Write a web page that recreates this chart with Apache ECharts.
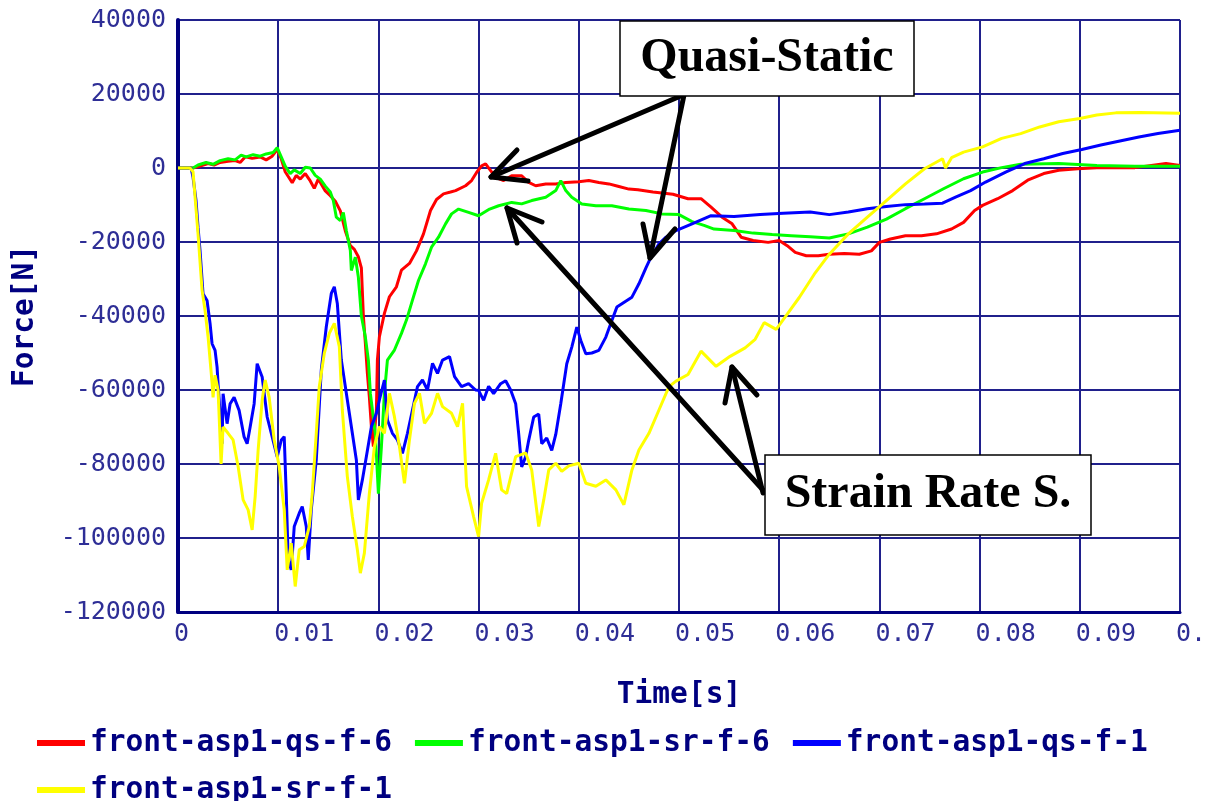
<!DOCTYPE html>
<html>
<head>
<meta charset="utf-8">
<title>Force vs Time</title>
<script src="https://cdn.jsdelivr.net/npm/echarts@6.0.0/dist/echarts.min.js"></script>
<style>
  html, body { margin: 0; padding: 0; background: #fff; }
  #chart { width: 1205px; height: 801px; }
</style>
</head>
<body>
<div id="chart"></div>
<script>
// series names (legend order)
const seriesNames = ["front-asp1-qs-f-6", "front-asp1-sr-f-6", "front-asp1-qs-f-1", "front-asp1-sr-f-1"];
const seriesColors = ["#ff0000", "#00ff00", "#0000ff", "#ffff00"];

// tick labels
const xTickLabels = ["0", "0.01", "0.02", "0.03", "0.04", "0.05", "0.06", "0.07", "0.08", "0.09", "0.1"];
const yTickLabels = ["-120000", "-100000", "-80000", "-60000", "-40000", "-20000", "0", "20000", "40000"];

// [time s, force N]
const qsF6 = [[0,0],[0.0015,0],[0.0022,500],[0.003,1200],[0.0036,800],[0.0042,1500],[0.005,1800],[0.0057,2000],[0.0062,1500],[0.0067,3000],[0.0074,2600],[0.0082,3000],[0.0088,2200],[0.0094,3200],[0.0099,5000],[0.0103,2500],[0.0107,-1000],[0.0114,-4000],[0.0118,-2000],[0.0122,-3000],[0.0127,-1500],[0.0132,-3500],[0.0136,-5500],[0.014,-3000],[0.0147,-6200],[0.0152,-7500],[0.0157,-9000],[0.0162,-11600],[0.0167,-17000],[0.0172,-21000],[0.0176,-22000],[0.018,-24000],[0.0183,-27000],[0.0185,-40000],[0.0187,-47400],[0.0189,-55500],[0.0191,-62000],[0.0193,-69900],[0.0195,-75300],[0.0198,-65400],[0.0199,-51900],[0.0201,-45600],[0.0206,-39300],[0.0211,-34800],[0.0218,-32100],[0.0223,-27600],[0.0231,-25800],[0.0238,-22400],[0.0245,-17800],[0.0252,-11500],[0.0258,-8500],[0.0265,-7000],[0.0272,-6500],[0.0277,-6100],[0.0287,-4800],[0.0293,-3400],[0.0298,-1200],[0.0303,600],[0.0307,1100],[0.0312,-700],[0.0317,-2500],[0.0325,-3400],[0.0333,-2100],[0.0343,-2100],[0.035,-3900],[0.0357,-4800],[0.0367,-4300],[0.0377,-4300],[0.0387,-3900],[0.04,-3700],[0.041,-3400],[0.042,-3900],[0.043,-4300],[0.044,-5000],[0.045,-5700],[0.0459,-5900],[0.0474,-6500],[0.0494,-7100],[0.0509,-8300],[0.0522,-8300],[0.0532,-10600],[0.0543,-13300],[0.0553,-15100],[0.0562,-18700],[0.0574,-19600],[0.0589,-20100],[0.06,-19600],[0.0608,-21000],[0.0616,-22800],[0.0627,-23700],[0.0639,-23700],[0.065,-23300],[0.0665,-23100],[0.068,-23300],[0.0692,-22400],[0.07,-20100],[0.0711,-19200],[0.0726,-18300],[0.0742,-18300],[0.0757,-17800],[0.0772,-16500],[0.0784,-14700],[0.0795,-11500],[0.0803,-10100],[0.0818,-8300],[0.0833,-6100],[0.0848,-3300],[0.0864,-1500],[0.0879,-600],[0.0898,-200],[0.0917,100],[0.0955,100],[0.0986,1200],[0.1,700]];

const srF6 = [[0,0],[0.0015,0],[0.002,800],[0.0028,1500],[0.0035,1000],[0.0042,2000],[0.005,2500],[0.0057,2200],[0.0063,3500],[0.0068,3000],[0.0075,3600],[0.0082,3200],[0.0088,3800],[0.0095,4200],[0.0099,5500],[0.0103,3000],[0.0107,500],[0.0112,-1500],[0.0116,-500],[0.0122,-1500],[0.0127,200],[0.0132,0],[0.0137,-2000],[0.0142,-3000],[0.0147,-4900],[0.0152,-6500],[0.0155,-8800],[0.0158,-13300],[0.0162,-14200],[0.0165,-12000],[0.0168,-16900],[0.0172,-22300],[0.0173,-27700],[0.0177,-24100],[0.018,-29500],[0.0183,-40000],[0.0187,-45700],[0.019,-52000],[0.0192,-61000],[0.0194,-65400],[0.0197,-72000],[0.02,-88000],[0.0203,-75300],[0.0206,-60900],[0.0209,-51900],[0.0216,-49200],[0.0223,-44700],[0.0228,-41100],[0.0234,-35700],[0.024,-30400],[0.0247,-25900],[0.0253,-21400],[0.026,-18700],[0.0267,-15100],[0.0273,-12400],[0.028,-11100],[0.029,-12000],[0.03,-12900],[0.0311,-11100],[0.032,-10200],[0.0333,-9300],[0.0343,-9700],[0.0353,-8800],[0.0367,-7900],[0.0377,-6100],[0.0382,-3400],[0.0387,-6100],[0.0393,-7900],[0.0403,-9700],[0.0417,-10200],[0.0433,-10200],[0.045,-11100],[0.0467,-11500],[0.0483,-12400],[0.05,-12600],[0.0513,-14500],[0.0525,-15500],[0.0535,-16500],[0.0555,-16900],[0.0574,-17600],[0.0593,-18000],[0.0612,-18300],[0.0631,-18600],[0.065,-18900],[0.0669,-17800],[0.0688,-16000],[0.0707,-13800],[0.0726,-11000],[0.0745,-8300],[0.0764,-5600],[0.0784,-2900],[0.0803,-1100],[0.0822,100],[0.0841,1000],[0.0879,1200],[0.0917,700],[0.0955,500],[0.1,500]];

const qsF1 = [[0,0],[0.0013,0],[0.0015,-2500],[0.0018,-8800],[0.002,-16000],[0.0022,-22300],[0.0025,-34000],[0.0029,-35800],[0.0032,-42000],[0.0034,-47500],[0.0037,-49300],[0.0039,-53800],[0.004,-58300],[0.0042,-66400],[0.0044,-74500],[0.0045,-61000],[0.0049,-69100],[0.0052,-63700],[0.0056,-62000],[0.0061,-65500],[0.0066,-72700],[0.0069,-74500],[0.0072,-70000],[0.0076,-63700],[0.0079,-52900],[0.0084,-56500],[0.0089,-67300],[0.0094,-72700],[0.0099,-78100],[0.0103,-73600],[0.0106,-72600],[0.0108,-87900],[0.011,-105900],[0.0113,-108600],[0.0116,-96900],[0.0121,-93300],[0.0124,-91500],[0.0128,-96900],[0.013,-105900],[0.0133,-92400],[0.0138,-78900],[0.0143,-54600],[0.0148,-42900],[0.0153,-33900],[0.0156,-32100],[0.0159,-36600],[0.0163,-51900],[0.0168,-60900],[0.0171,-66300],[0.0174,-71700],[0.0178,-78900],[0.018,-89700],[0.0184,-84300],[0.0188,-78000],[0.0193,-69900],[0.0198,-66300],[0.0201,-62700],[0.0206,-57300],[0.0209,-68100],[0.0214,-71700],[0.0219,-73500],[0.0224,-77100],[0.0229,-71700],[0.0234,-65400],[0.0239,-59100],[0.0244,-57300],[0.0249,-60000],[0.0254,-52800],[0.0259,-55500],[0.0264,-51900],[0.0271,-51000],[0.0276,-56400],[0.0283,-59100],[0.029,-58300],[0.0297,-60000],[0.03,-60100],[0.0305,-62800],[0.031,-59000],[0.0315,-61000],[0.0322,-58300],[0.0327,-57500],[0.0332,-60000],[0.0337,-63700],[0.034,-71800],[0.0343,-80800],[0.0347,-78000],[0.035,-73600],[0.0355,-67300],[0.036,-66500],[0.0363,-74500],[0.0368,-73000],[0.0373,-76300],[0.0377,-72000],[0.0382,-63700],[0.0385,-58300],[0.0388,-52900],[0.0393,-48400],[0.0398,-43000],[0.0402,-46600],[0.0407,-50200],[0.0413,-50000],[0.042,-49300],[0.0427,-45700],[0.0433,-41200],[0.0438,-37600],[0.0443,-36700],[0.0453,-34900],[0.046,-31300],[0.0467,-27000],[0.0472,-24100],[0.048,-20500],[0.0487,-18700],[0.0497,-16900],[0.0513,-15100],[0.0532,-12900],[0.0555,-13100],[0.0581,-12600],[0.0604,-12200],[0.0631,-11900],[0.065,-12600],[0.0669,-11900],[0.0688,-11000],[0.0707,-10400],[0.0726,-9900],[0.0745,-9700],[0.0763,-9500],[0.0776,-7900],[0.0791,-6100],[0.0806,-3800],[0.0826,-1100],[0.0845,1200],[0.0864,2500],[0.0883,3900],[0.0902,5000],[0.0921,6200],[0.094,7300],[0.0959,8400],[0.0978,9300],[0.1,10200]];

const srF1 = [[0,0],[0.0012,0],[0.0015,-1000],[0.002,-17800],[0.0024,-33000],[0.0027,-38500],[0.003,-45600],[0.0034,-58000],[0.0035,-62000],[0.0037,-56000],[0.004,-60000],[0.0043,-80000],[0.0045,-70000],[0.005,-71700],[0.0055,-73500],[0.006,-80700],[0.0065,-89700],[0.007,-92400],[0.0074,-97800],[0.0077,-88800],[0.008,-76200],[0.0084,-62700],[0.0087,-57300],[0.0091,-62000],[0.0096,-73500],[0.0101,-80700],[0.0106,-92400],[0.0109,-108600],[0.0113,-101400],[0.0117,-113100],[0.0121,-103200],[0.0126,-102300],[0.0131,-96900],[0.0134,-87900],[0.0138,-71700],[0.0141,-59100],[0.0146,-50100],[0.0151,-44700],[0.0156,-42000],[0.0161,-48300],[0.0164,-65400],[0.0169,-83400],[0.0174,-94200],[0.0179,-103200],[0.0182,-109500],[0.0186,-104100],[0.0191,-87900],[0.0196,-75300],[0.0201,-69900],[0.0206,-71700],[0.0211,-60900],[0.0216,-67200],[0.0221,-75300],[0.0226,-85200],[0.0231,-73500],[0.0236,-63600],[0.0241,-60900],[0.0246,-69000],[0.0253,-66300],[0.0259,-60900],[0.0264,-64500],[0.0273,-66300],[0.0279,-69900],[0.0284,-63600],[0.0288,-86100],[0.0295,-94200],[0.03,-99600],[0.0303,-90600],[0.031,-84300],[0.0317,-77100],[0.0323,-87000],[0.0328,-88000],[0.0337,-78000],[0.0347,-77000],[0.0353,-81600],[0.036,-96900],[0.0365,-89700],[0.037,-81600],[0.0377,-79800],[0.0383,-82000],[0.039,-80500],[0.04,-79800],[0.0407,-85200],[0.0417,-86000],[0.0427,-84300],[0.0437,-87000],[0.0445,-91000],[0.0453,-81600],[0.046,-76200],[0.047,-71700],[0.048,-65400],[0.049,-59100],[0.0497,-57600],[0.0509,-55800],[0.0522,-49500],[0.0537,-53600],[0.0551,-50900],[0.0566,-48600],[0.0576,-46300],[0.0585,-41800],[0.0597,-43600],[0.0608,-39500],[0.062,-35000],[0.0635,-28700],[0.065,-23300],[0.0669,-17800],[0.0688,-13300],[0.0707,-8800],[0.0726,-4300],[0.0745,-200],[0.0763,2500],[0.0766,0],[0.0772,2800],[0.0784,4300],[0.0803,5700],[0.0822,8000],[0.0841,9300],[0.086,11100],[0.0879,12500],[0.09,13400],[0.0917,14300],[0.0936,14900],[0.096,15000],[0.1,14800]];

const seriesData = [qsF6, srF6, qsF1, srF1];

const X_MIN = 0, X_MAX = 0.1, X_STEP = 0.01;
const Y_MIN = -120000, Y_MAX = 40000, Y_STEP = 20000;

const navy = "#000080";
const labelFont = { fontFamily: "DejaVu Sans Mono", fontSize: 25, color: "#2e2e96" };
const titleFont = { fontFamily: "DejaVu Sans Mono", fontSize: 29.5, fontWeight: "bold", color: navy };
const gridLine = { lineStyle: { color: "#20208c", width: 2 } };

function arrow(from, tip, wingA, wingB) {
  const style = { stroke: "#000", lineWidth: 5, lineCap: "round", lineJoin: "round", fill: null };
  return [
    { type: "line", z: 100, shape: { x1: from[0], y1: from[1], x2: tip[0], y2: tip[1] }, style },
    { type: "polyline", z: 100, shape: { points: [wingA, tip, wingB] }, style },
  ];
}

function labelBox(x, y, w, h, text, size) {
  return [
    { type: "rect", z: 100, shape: { x, y, width: w, height: h }, style: { fill: "#fff", stroke: "#000", lineWidth: 1.5 } },
    {
      type: "text", z: 101,
      style: {
        x: x + w / 2, y: y + h / 2, text, fill: "#000",
        font: "bold " + size + "px 'Liberation Serif'", align: "center", verticalAlign: "middle",
      },
    },
  ];
}

function initChart() {
  const chart = echarts.init(document.getElementById("chart"), null, { renderer: "canvas" });

  const series = seriesNames.map((name, i) => ({
    name,
    type: "line",
    data: seriesData[i],
    showSymbol: false,
    symbol: "none",
    sampling: null,
    lineStyle: { color: seriesColors[i], width: 3 },
    itemStyle: { color: seriesColors[i] },
    z: 2 + i,
  }));

  const legendBase = {
    left: 37,
    padding: 0,
    orient: "horizontal",
    icon: "rect",
    itemWidth: 48,
    itemHeight: 6,
    itemGap: 23,
    textStyle: titleFont,
    selectedMode: false,
  };

  chart.setOption({
    animation: false,
    backgroundColor: "#fff",
    grid: { left: 178, right: 25, top: 20, bottom: 189, outerBoundsMode: "none", containLabel: false },
    legend: [
      Object.assign({}, legendBase, { top: 728, data: seriesNames.slice(0, 3) }),
      Object.assign({}, legendBase, { top: 775, data: seriesNames.slice(3) }),
    ],
    xAxis: {
      type: "value",
      min: X_MIN,
      max: X_MAX,
      interval: X_STEP,
      name: "Time[s]",
      nameLocation: "middle",
      nameGap: 68,
      nameTextStyle: titleFont,
      axisLine: { onZero: false, lineStyle: { color: navy, width: 3 } },
      axisTick: { show: false },
      axisLabel: Object.assign({}, labelFont, {
        align: "left",
        margin: 10,
        padding: [0, 0, 0, -4],
        showMaxLabel: true,
        showMinLabel: true,
        formatter: (v) => xTickLabels[Math.round((v - X_MIN) / X_STEP)],
      }),
      splitLine: gridLine,
    },
    yAxis: {
      type: "value",
      min: Y_MIN,
      max: Y_MAX,
      interval: Y_STEP,
      name: "Force[N]",
      nameLocation: "middle",
      nameGap: 138,
      nameTextStyle: titleFont,
      axisLine: { show: true, onZero: false, lineStyle: { color: navy, width: 4 } },
      axisTick: { show: false },
      axisLabel: Object.assign({}, labelFont, {
        margin: 12,
        formatter: (v) => yTickLabels[Math.round((v - Y_MIN) / Y_STEP)],
      }),
      splitLine: gridLine,
    },
    series,
    graphic: [
      ...arrow([683, 95], [491, 177], [517, 150], [528, 181]),
      ...arrow([684, 95], [650, 258], [643, 224], [675, 229]),
      ...arrow([763, 490], [507, 208], [517, 243], [542, 222]),
      ...arrow([763, 493], [732, 367], [725, 403], [757, 395]),
      ...labelBox(620, 21, 294, 75, "Quasi-Static", 48),
      ...labelBox(765, 455, 326, 80, "Strain Rate S.", 48),
    ],
  });

  window.addEventListener("resize", () => chart.resize());
}

initChart();
</script>
</body>
</html>
